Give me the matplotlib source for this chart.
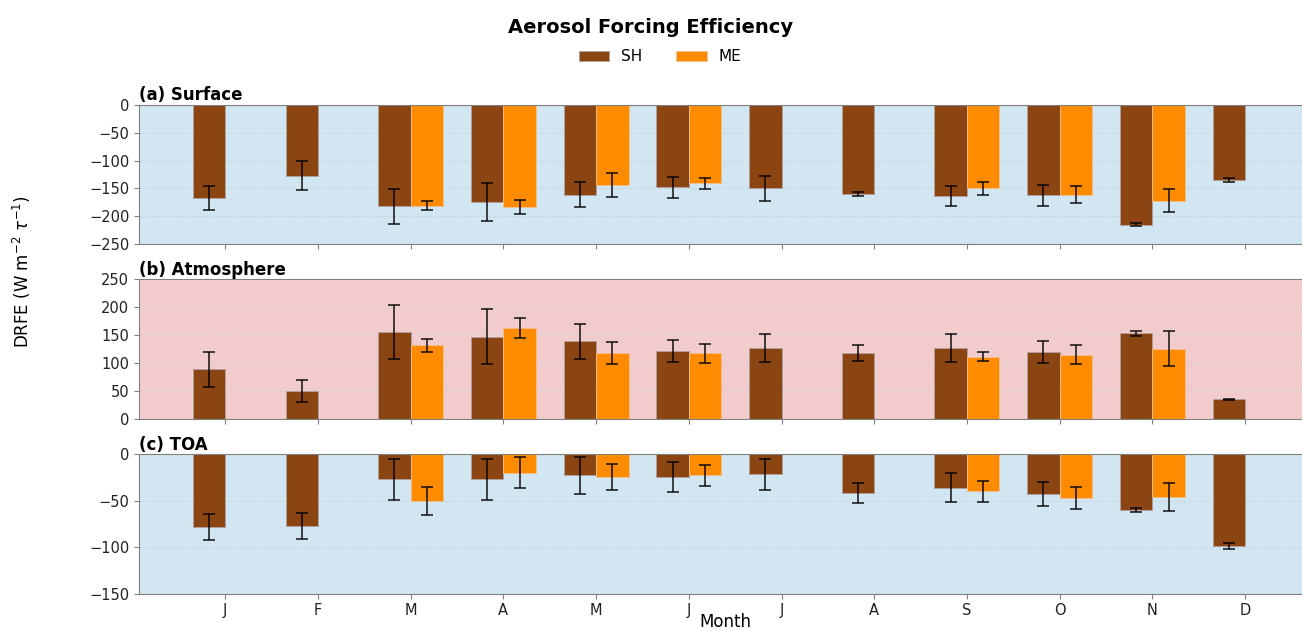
import matplotlib
matplotlib.use("Agg")
import matplotlib.pyplot as plt
import numpy as np

months = ['J', 'F', 'M', 'A', 'M', 'J', 'J', 'A', 'S', 'O', 'N', 'D']
nan = np.nan

# surface
sfc_sh = [-167, -127, -182, -174, -161, -148, -150, -160, -163, -162, -215, -135]
sfc_sh_err = [21, 26, 31, 34, 23, 19, 22, 4, 18, 19, 3, 4]
sfc_me = [nan, nan, -181, -183, -144, -141, nan, nan, -150, -161, -172, nan]
sfc_me_err = [nan, nan, 8, 13, 21, 10, nan, nan, 12, 15, 21, nan]

# atmosphere
atm_sh = [89, 50, 156, 147, 139, 122, 127, 118, 127, 120, 153, 35]
atm_sh_err = [31, 20, 48, 49, 31, 20, 25, 14, 25, 20, 5, 1]
atm_me = [nan, nan, 132, 163, 118, 118, nan, nan, 111, 115, 126, nan]
atm_me_err = [nan, nan, 12, 18, 20, 17, nan, nan, 8, 17, 32, nan]

# toa
toa_sh = [-78, -77, -27, -27, -23, -25, -22, -42, -36, -43, -60, -99]
toa_sh_err = [14, 14, 22, 22, 20, 16, 17, 11, 16, 13, 2, 3]
toa_me = [nan, nan, -50, -20, -25, -23, nan, nan, -40, -47, -46, nan]
toa_me_err = [nan, nan, 15, 17, 14, 11, nan, nan, 11, 12, 15, nan]

panels = [
    ('(a) Surface', sfc_sh, sfc_sh_err, sfc_me, sfc_me_err, (-250, 0), np.arange(-250, 1, 50), '#d1e6f1'),
    ('(b) Atmosphere', atm_sh, atm_sh_err, atm_me, atm_me_err, (0, 250), np.arange(0, 251, 50), '#f2cccd'),
    ('(c) TOA', toa_sh, toa_sh_err, toa_me, toa_me_err, (-150, 0), [-150, -100, -50, 0], '#d1e6f1'),
]

c_sh = '#8B4513'
c_me = '#FF8C00'
w = 0.35
x = np.arange(len(months))

fig = plt.figure(figsize=(13.02, 6.31), dpi=100)
bottoms = [0.6128, 0.336, 0.0591]
axes = []
for (title, sh, sh_err, me, me_err, ylim, yt, bg), b in zip(panels, bottoms):
    ax = fig.add_axes([0.1068, b, 0.9, 0.2214])
    ax.set_facecolor(bg)
    ax.bar(x - w / 2, sh, w, color=c_sh, edgecolor='#b0a0a0', linewidth=0.6, label='SH', zorder=2)
    ax.bar(x + w / 2, me, w, color=c_me, edgecolor='#f0c090', linewidth=0.6, label='ME', zorder=2)
    ax.errorbar(x - w / 2, sh, yerr=sh_err, fmt='none', ecolor='black', elinewidth=1.2,
                capsize=4, capthick=1.2, alpha=0.85, zorder=3)
    ax.errorbar(x + w / 2, me, yerr=me_err, fmt='none', ecolor='black', elinewidth=1.2,
                capsize=4, capthick=1.2, alpha=0.85, zorder=3)
    ax.set_ylim(*ylim)
    ax.set_yticks(yt)
    ax.set_xlim(-0.93, 11.71)
    ax.set_xticks(x)
    ax.yaxis.grid(True, linestyle='--', color='#c8d0d8', alpha=0.6, linewidth=0.8)
    ax.set_axisbelow(True)
    for s in ax.spines.values():
        s.set_color('#808080')
    ax.tick_params(colors='#808080', labelcolor='#222222', labelsize=10.5)
    ax.set_title(title, loc='left', fontweight='bold', fontsize=12, pad=3)
    axes.append(ax)

axes[0].set_xticklabels([])
axes[1].set_xticklabels([])
axes[2].set_xticklabels(months)
axes[2].set_xlabel('Month', fontsize=12, labelpad=-4)

fig.text(0.017, 0.569, r'DRFE (W m$^{-2}$ $\tau^{-1}$)', rotation=90, va='center', ha='center', fontsize=12)
fig.suptitle('Aerosol Forcing Efficiency', fontweight='bold', fontsize=14, x=0.5, y=0.972)
h, l = axes[0].get_legend_handles_labels()
fig.legend(h, l, loc='center', bbox_to_anchor=(0.507, 0.91), ncol=2, frameon=False,
           fontsize=11, handlelength=2.0, columnspacing=2.2)

fig.savefig('out.png', dpi=100)
